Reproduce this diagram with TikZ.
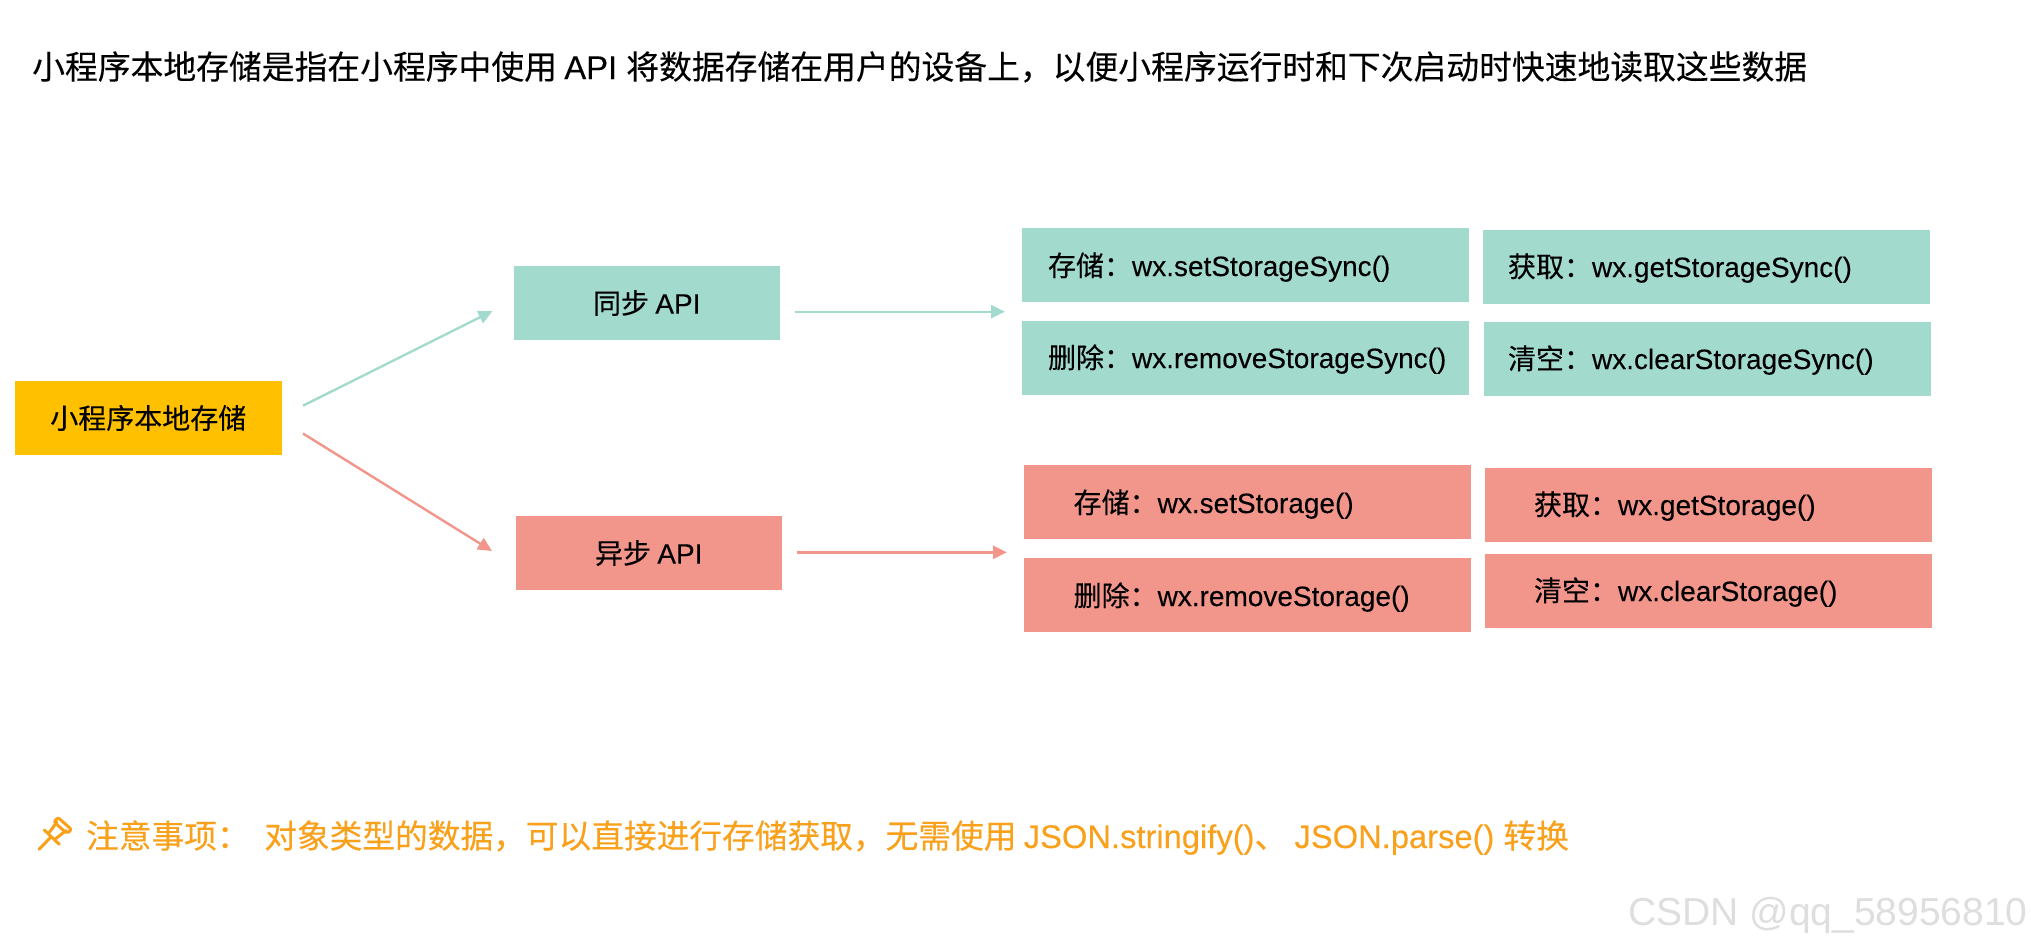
\documentclass[tikz,border=0pt]{standalone}
\usepackage{fontspec}
\setmainfont[FakeBold=0.15]{Liberation Sans}
\newfontfamily\cjk[FakeBold=0.2]{Noto Sans CJK SC}
\newfontfamily\wmfont{Liberation Sans}
\usetikzlibrary{arrows.meta}
\definecolor{tealbox}{HTML}{A3DACE}
\definecolor{redbox}{HTML}{F2958A}
\definecolor{rootbox}{HTML}{FFC000}
\definecolor{noticec}{HTML}{F9A11B}
\definecolor{wmark}{HTML}{DEDEDE}
\tikzset{
  apibox/.style={rectangle,inner sep=0pt,outer sep=0pt,anchor=north west,text=black,font=\fontsize{28}{30}\selectfont,align=center},
  tealfill/.style={fill=tealbox},
  redfill/.style={fill=redbox},
  tealarrow/.style={draw=tealbox,line width=2.4pt,-{Triangle[length=14pt,width=13pt]}},
  redarrow/.style={draw=redbox,line width=2.4pt,-{Triangle[length=14pt,width=13pt]}},
  label/.style={inner sep=0pt,outer sep=0pt,anchor=base west,text=black,font=\fontsize{28}{30}\selectfont},
}
\begin{document}
\begin{tikzpicture}[x=1pt,y=-1pt]
\useasboundingbox (0,0) rectangle (2031,945);
\fill[white] (0,0) rectangle (2031,945);
% title
\node[inner sep=0pt,anchor=base west,font=\fontsize{32.8}{34}\selectfont] (title) at (32,79)
 {\cjk 小程序本地存储是指在小程序中使用\ \normalfont API\ \cjk 将数据存储在用户的设备上，以便小程序运行时和下次启动时快速地读取这些数据};
% root and APIs
\node[apibox,fill=rootbox,minimum width=266.5pt,minimum height=74pt] (root) at (15,381) {\cjk 小程序本地存储};
\node[apibox,tealfill,minimum width=266.5pt,minimum height=74pt] (sync) at (513.5,266) {\cjk 同步\ \normalfont API};
\node[apibox,redfill,minimum width=266.5pt,minimum height=74pt] (async) at (515.5,516) {\cjk 异步\ \normalfont API};
% item boxes
\node[apibox,tealfill,minimum width=447.5pt,minimum height=74pt] (a) at (1021.7,228) {};
\node[apibox,tealfill,minimum width=447pt,minimum height=74pt] (b) at (1483,230) {};
\node[apibox,tealfill,minimum width=447.5pt,minimum height=74pt] (c) at (1021.7,321) {};
\node[apibox,tealfill,minimum width=447pt,minimum height=74pt] (d) at (1484,322) {};
\node[apibox,redfill,minimum width=447pt,minimum height=74pt] (e) at (1024,465) {};
\node[apibox,redfill,minimum width=447pt,minimum height=74pt] (f) at (1485,468) {};
\node[apibox,redfill,minimum width=447pt,minimum height=74pt] (g) at (1024,558) {};
\node[apibox,redfill,minimum width=447pt,minimum height=74pt] (h) at (1485,554) {};
\node[label] (ta) at (1048,276) {\cjk 存储：\normalfont wx.setStorageSync()};
\node[label] (tb) at (1508,277) {\cjk 获取：\normalfont wx.getStorageSync()};
\node[label] (tc) at (1048,368) {\cjk 删除：\normalfont wx.removeStorageSync()};
\node[label] (td) at (1508,369) {\cjk 清空：\normalfont wx.clearStorageSync()};
\node[label] (te) at (1073.6,513) {\cjk 存储：\normalfont wx.setStorage()};
\node[label] (tf) at (1534,515) {\cjk 获取：\normalfont wx.getStorage()};
\node[label] (tg) at (1073.6,606) {\cjk 删除：\normalfont wx.removeStorage()};
\node[label] (th) at (1534,601) {\cjk 清空：\normalfont wx.clearStorage()};
% connector ends
\coordinate (r1) at (303,405.7);
\coordinate (s1) at (492.5,311);
\coordinate (r2) at (303,433.5);
\coordinate (s2) at (492,551);
\coordinate (s3) at (794.5,311.7);
\coordinate (s4) at (1005,311.7);
\coordinate (s5) at (797,552.3);
\coordinate (s6) at (1007,552.3);
\draw[tealarrow] (r1) -- (s1);
\draw[redarrow] (r2) -- (s2);
\draw[tealarrow] (s3) -- (s4);
\draw[redarrow] (s5) -- (s6);
% notice
\node[inner sep=0pt,anchor=base west,text=noticec,font=\fontsize{32.7}{34}\selectfont] (notice) at (86,848)
 {\cjk 注意事项：\ \ 对象类型的数据，可以直接进行存储获取，无需使用\ \normalfont JSON.stringify()\cjk 、\ \normalfont JSON.parse()\ \cjk 转换};
% pin
\draw[noticec,line width=3pt,line cap=round,line join=round]
  (39,849.3) -- (50,838)
  (44.3,830) -- (59.3,844.3)
  (49.5,832) -- (57,822)
  (56,838.5) -- (66,830.5);
\draw[noticec,line width=3pt,line join=round,rounded corners=2pt]
  (54,822) -- (58,817.5) -- (71.5,829.5) -- (67,833.5) -- cycle;
% watermark
\node[inner sep=0pt,anchor=base west,text=wmark,font=\wmfont\fontsize{39}{40}\selectfont] (wm) at (1628,925) {CSDN @qq\_58956810};
\end{tikzpicture}
\end{document}
